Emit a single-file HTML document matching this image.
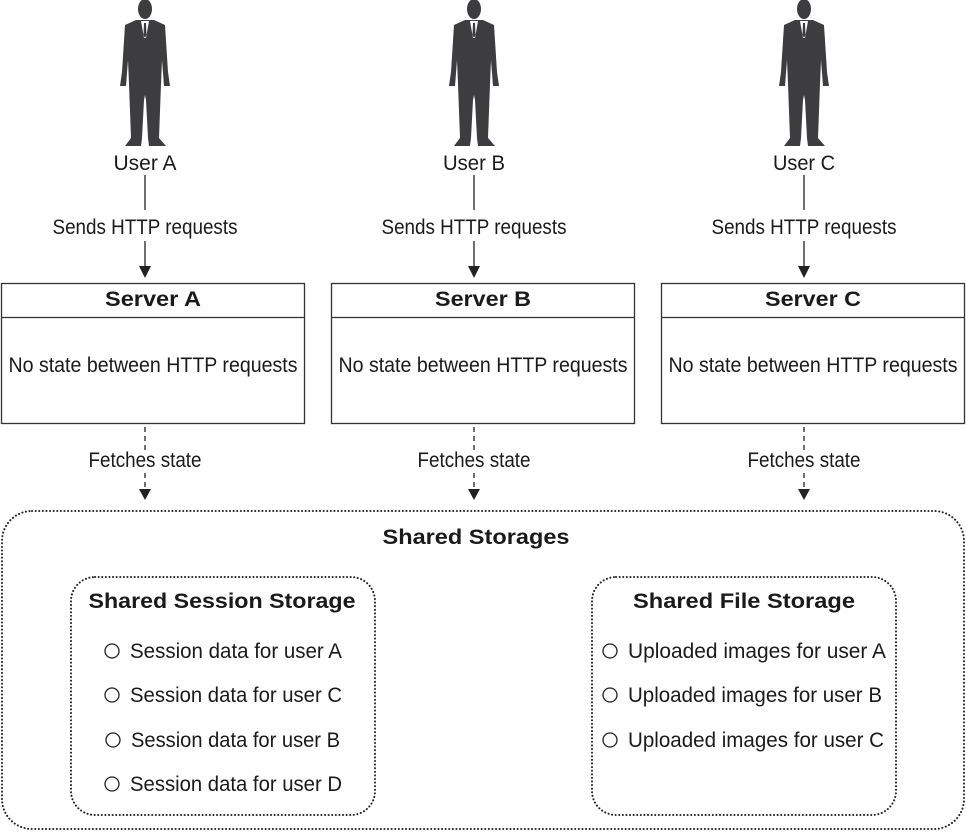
<!DOCTYPE html>
<html><head><meta charset="utf-8"><style>
html,body{margin:0;padding:0;background:#fff;}
svg{display:block;}
text{font-family:"Liberation Sans",sans-serif;fill:#1a1a1a;}
.t{font-size:21px;}
.b{font-size:21px;font-weight:bold;}
</style></head><body>
<svg width="966" height="832" viewBox="0 0 966 832" xmlns="http://www.w3.org/2000/svg">
<defs>
<g id="person">
<ellipse cx="0" cy="9" rx="7" ry="10" fill="#3d3d3f"/>
<path d="M-9,20 L9,20 L20,25 L23,72 L25,86 L19,86 L17,60 L16,84 L14,138 L21,146 L4,146 L3,138 L1,100 L0,95 L-1,100 L-3,138 L-4,146 L-20,146 L-14,138 L-16,84 L-17,60 L-19,86 L-25,86 L-23,72 L-20,25 Z" fill="#3d3d3f"/>
<path d="M-4,21 L4,21 L1,38 L-1,38 Z" fill="#fff"/>
<path d="M-1,23 L1,23 L1.5,35 L0,38 L-1.5,35 Z" fill="#3d3d3f"/>
</g>
<g id="col">
<use href="#person"/>
<line x1="0" y1="175" x2="0" y2="210" stroke="#222" stroke-width="1.3"/>
<line x1="0" y1="241" x2="0" y2="268" stroke="#222" stroke-width="1.3"/>
<polygon points="-6,266 6,266 0,278" fill="#222"/>
<line x1="0" y1="427" x2="0" y2="450" stroke="#222" stroke-width="1.3" stroke-dasharray="5,4"/>
<line x1="0" y1="473" x2="0" y2="489" stroke="#222" stroke-width="1.3" stroke-dasharray="5,4"/>
<polygon points="-6,489 6,489 0,500" fill="#222"/>
</g>
</defs>

<g transform="translate(145,0)"><use href="#col"/></g>
<g transform="translate(474,0)"><use href="#col"/></g>
<g transform="translate(804,0)"><use href="#col"/></g>

<text class="t" x="145" y="170" text-anchor="middle" textLength="63" lengthAdjust="spacingAndGlyphs">User A</text>
<text class="t" x="474" y="170" text-anchor="middle" textLength="62" lengthAdjust="spacingAndGlyphs">User B</text>
<text class="t" x="804" y="170" text-anchor="middle" textLength="62" lengthAdjust="spacingAndGlyphs">User C</text>

<text class="t" x="145" y="234" text-anchor="middle" textLength="185" lengthAdjust="spacingAndGlyphs">Sends HTTP requests</text>
<text class="t" x="474" y="234" text-anchor="middle" textLength="185" lengthAdjust="spacingAndGlyphs">Sends HTTP requests</text>
<text class="t" x="804" y="234" text-anchor="middle" textLength="185" lengthAdjust="spacingAndGlyphs">Sends HTTP requests</text>

<g fill="none" stroke="#333" stroke-width="1.3">
<rect x="1.5" y="283.5" width="303" height="140"/><line x1="1.5" y1="317.5" x2="304.5" y2="317.5"/>
<rect x="331.5" y="283.5" width="303" height="140"/><line x1="331.5" y1="317.5" x2="634.5" y2="317.5"/>
<rect x="661.5" y="283.5" width="303" height="140"/><line x1="661.5" y1="317.5" x2="964.5" y2="317.5"/>
</g>
<text class="b" x="153" y="306" text-anchor="middle" textLength="96" lengthAdjust="spacingAndGlyphs">Server A</text>
<text class="b" x="483" y="306" text-anchor="middle" textLength="96" lengthAdjust="spacingAndGlyphs">Server B</text>
<text class="b" x="813" y="306" text-anchor="middle" textLength="96" lengthAdjust="spacingAndGlyphs">Server C</text>
<text class="t" x="153" y="372" text-anchor="middle" textLength="289" lengthAdjust="spacingAndGlyphs">No state between HTTP requests</text>
<text class="t" x="483" y="372" text-anchor="middle" textLength="289" lengthAdjust="spacingAndGlyphs">No state between HTTP requests</text>
<text class="t" x="813" y="372" text-anchor="middle" textLength="289" lengthAdjust="spacingAndGlyphs">No state between HTTP requests</text>

<text class="t" x="145" y="467" text-anchor="middle" textLength="113" lengthAdjust="spacingAndGlyphs">Fetches state</text>
<text class="t" x="474" y="467" text-anchor="middle" textLength="113" lengthAdjust="spacingAndGlyphs">Fetches state</text>
<text class="t" x="804" y="467" text-anchor="middle" textLength="113" lengthAdjust="spacingAndGlyphs">Fetches state</text>

<g fill="none" stroke="#222" stroke-width="2" stroke-dasharray="0.1,3.5" stroke-linecap="round">
<rect x="2" y="511" width="962" height="318" rx="30"/>
<rect x="71" y="577" width="304" height="238" rx="24"/>
<rect x="592" y="577" width="304" height="238" rx="24"/>
</g>

<text class="b" x="476" y="544" text-anchor="middle" textLength="187" lengthAdjust="spacingAndGlyphs">Shared Storages</text>
<text class="b" x="222" y="608" text-anchor="middle" textLength="267" lengthAdjust="spacingAndGlyphs">Shared Session Storage</text>
<text class="b" x="744" y="608" text-anchor="middle" textLength="222" lengthAdjust="spacingAndGlyphs">Shared File Storage</text>

<g fill="none" stroke="#222" stroke-width="1.3">
<circle cx="112" cy="651" r="7"/><circle cx="112" cy="695" r="7"/><circle cx="113" cy="740" r="7"/><circle cx="112" cy="784" r="7"/>
<circle cx="610" cy="651" r="7"/><circle cx="610" cy="695" r="7"/><circle cx="610" cy="740" r="7"/>
</g>
<text class="t" x="130" y="658" textLength="212" lengthAdjust="spacingAndGlyphs">Session data for user A</text>
<text class="t" x="130" y="702" textLength="212" lengthAdjust="spacingAndGlyphs">Session data for user C</text>
<text class="t" x="131" y="747" textLength="209" lengthAdjust="spacingAndGlyphs">Session data for user B</text>
<text class="t" x="130" y="791" textLength="212" lengthAdjust="spacingAndGlyphs">Session data for user D</text>
<text class="t" x="628" y="658" textLength="258" lengthAdjust="spacingAndGlyphs">Uploaded images for user A</text>
<text class="t" x="628" y="702" textLength="254" lengthAdjust="spacingAndGlyphs">Uploaded images for user B</text>
<text class="t" x="628" y="747" textLength="256" lengthAdjust="spacingAndGlyphs">Uploaded images for user C</text>
</svg>
</body></html>
